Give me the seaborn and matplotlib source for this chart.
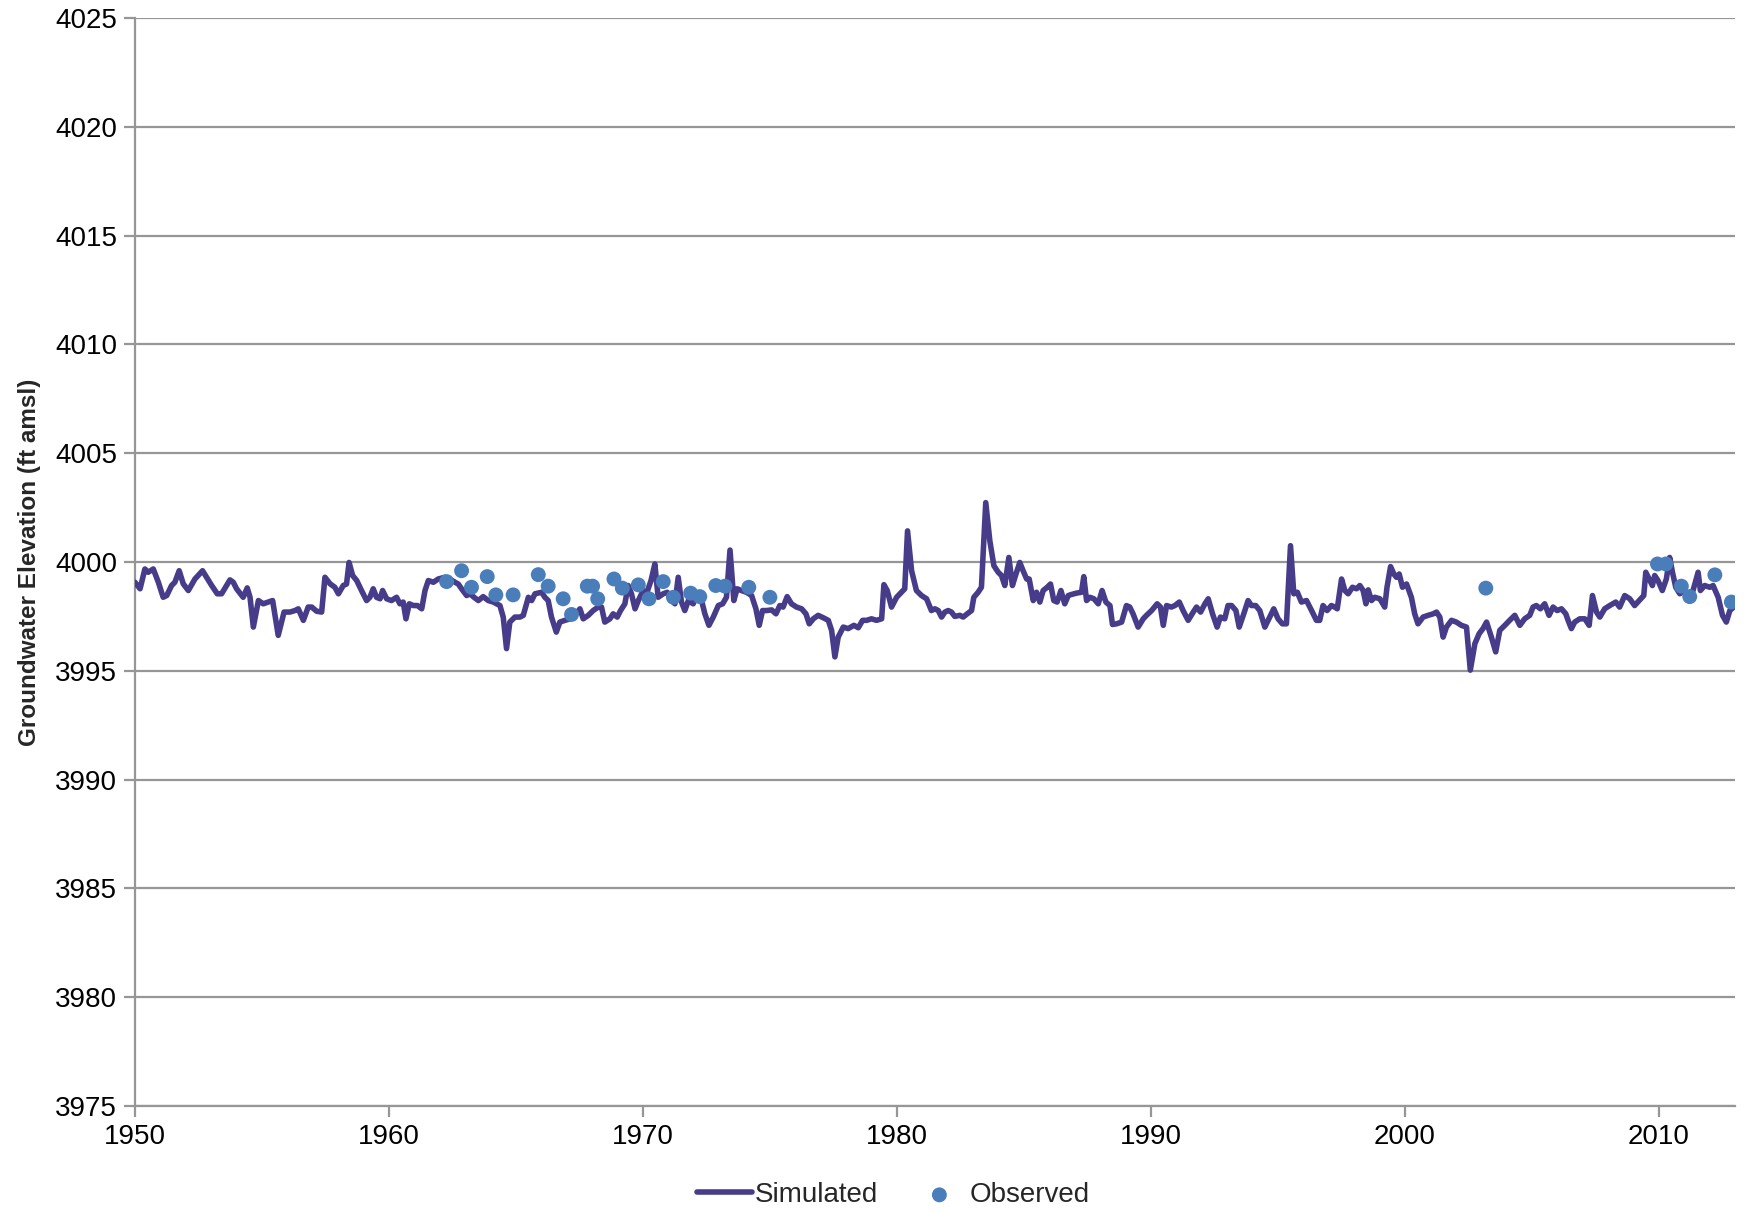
import matplotlib
matplotlib.use("Agg")
import matplotlib.pyplot as plt
import seaborn as sns

# simulated groundwater level
sim_year = [
    1950.00, 1950.20, 1950.39, 1950.52, 1950.72, 1950.92, 1951.11, 1951.25, 1951.44, 1951.57,
    1951.74, 1951.90, 1952.10, 1952.36, 1952.66, 1952.82, 1953.02, 1953.24, 1953.41, 1953.74,
    1953.87, 1954.00, 1954.26, 1954.42, 1954.53, 1954.66, 1954.86, 1955.05, 1955.25, 1955.42,
    1955.64, 1955.87, 1956.10, 1956.30, 1956.43, 1956.63, 1956.82, 1956.96, 1957.15, 1957.35,
    1957.48, 1957.68, 1957.87, 1958.01, 1958.20, 1958.33, 1958.43, 1958.57, 1958.73, 1958.92,
    1959.12, 1959.25, 1959.38, 1959.51, 1959.65, 1959.75, 1959.91, 1960.10, 1960.30, 1960.43,
    1960.56, 1960.67, 1960.80, 1960.96, 1961.12, 1961.29, 1961.42, 1961.55, 1961.75, 1961.94,
    1962.20, 1962.40, 1962.60, 1962.73, 1962.86, 1963.06, 1963.19, 1963.35, 1963.52, 1963.71,
    1963.91, 1964.11, 1964.37, 1964.50, 1964.63, 1964.76, 1964.96, 1965.16, 1965.29, 1965.49,
    1965.62, 1965.75, 1966.01, 1966.14, 1966.27, 1966.40, 1966.59, 1966.73, 1966.93, 1967.13,
    1967.32, 1967.52, 1967.65, 1967.85, 1968.04, 1968.24, 1968.37, 1968.50, 1968.70, 1968.83,
    1968.99, 1969.12, 1969.29, 1969.42, 1969.55, 1969.69, 1969.82, 1970.01, 1970.14, 1970.32,
    1970.47, 1970.60, 1970.80, 1970.96, 1971.13, 1971.26, 1971.39, 1971.52, 1971.65, 1971.79,
    1971.98, 1972.11, 1972.31, 1972.44, 1972.60, 1972.77, 1972.97, 1973.14, 1973.29, 1973.43,
    1973.58, 1973.71, 1973.88, 1974.08, 1974.28, 1974.45, 1974.58, 1974.71, 1974.87, 1975.07,
    1975.24, 1975.39, 1975.52, 1975.68, 1975.85, 1976.05, 1976.25, 1976.42, 1976.55, 1976.71,
    1976.90, 1977.10, 1977.30, 1977.43, 1977.56, 1977.69, 1977.89, 1978.08, 1978.31, 1978.48,
    1978.65, 1978.81, 1979.00, 1979.20, 1979.40, 1979.49, 1979.62, 1979.79, 1979.99, 1980.18,
    1980.31, 1980.42, 1980.58, 1980.77, 1980.97, 1981.17, 1981.36, 1981.50, 1981.63, 1981.76,
    1981.89, 1982.02, 1982.15, 1982.28, 1982.48, 1982.61, 1982.77, 1982.94, 1983.03, 1983.20,
    1983.33, 1983.50, 1983.66, 1983.82, 1983.99, 1984.12, 1984.25, 1984.41, 1984.55, 1984.69,
    1984.84, 1984.97, 1985.11, 1985.21, 1985.37, 1985.50, 1985.63, 1985.76, 1985.92, 1986.05,
    1986.18, 1986.31, 1986.46, 1986.61, 1986.75, 1986.88, 1987.07, 1987.27, 1987.36, 1987.47,
    1987.60, 1987.76, 1987.93, 1988.08, 1988.23, 1988.39, 1988.49, 1988.65, 1988.85, 1989.04,
    1989.17, 1989.30, 1989.50, 1989.70, 1989.83, 1990.03, 1990.25, 1990.38, 1990.49, 1990.62,
    1990.81, 1990.95, 1991.12, 1991.27, 1991.47, 1991.67, 1991.80, 1991.96, 1992.13, 1992.26,
    1992.43, 1992.61, 1992.74, 1992.91, 1993.04, 1993.18, 1993.35, 1993.48, 1993.66, 1993.83,
    1993.96, 1994.13, 1994.29, 1994.49, 1994.68, 1994.84, 1995.01, 1995.18, 1995.34, 1995.50,
    1995.63, 1995.77, 1995.93, 1996.13, 1996.33, 1996.52, 1996.65, 1996.78, 1996.94, 1997.11,
    1997.24, 1997.34, 1997.51, 1997.64, 1997.77, 1997.94, 1998.10, 1998.23, 1998.36, 1998.47,
    1998.56, 1998.69, 1998.82, 1999.02, 1999.21, 1999.30, 1999.44, 1999.57, 1999.67, 1999.78,
    1999.91, 2000.07, 2000.26, 2000.39, 2000.52, 2000.72, 2000.92, 2001.12, 2001.25, 2001.38,
    2001.51, 2001.64, 2001.84, 2002.03, 2002.23, 2002.43, 2002.58, 2002.76, 2002.93, 2003.08,
    2003.22, 2003.41, 2003.58, 2003.74, 2003.94, 2004.13, 2004.33, 2004.53, 2004.72, 2004.92,
    2005.05, 2005.18, 2005.34, 2005.51, 2005.68, 2005.84, 2006.00, 2006.17, 2006.34, 2006.43,
    2006.56, 2006.69, 2006.89, 2007.09, 2007.26, 2007.39, 2007.55, 2007.68, 2007.87, 2008.07,
    2008.31, 2008.46, 2008.66, 2008.86, 2009.05, 2009.23, 2009.41, 2009.49, 2009.62, 2009.75,
    2009.84, 2009.97, 2010.14, 2010.30, 2010.43, 2010.54, 2010.67, 2010.83, 2010.98, 2011.15,
    2011.35, 2011.55, 2011.64, 2011.81, 2012.01, 2012.14, 2012.34, 2012.51, 2012.66, 2012.80,
    2012.95,
]
sim_level = [
    3999.07, 3998.77, 3999.68, 3999.53, 3999.68, 3999.07, 3998.38, 3998.46, 3998.92, 3999.07,
    3999.60, 3999.00, 3998.69, 3999.22, 3999.60, 3999.30, 3998.92, 3998.54, 3998.54, 3999.18,
    3999.07, 3998.77, 3998.38, 3998.81, 3998.38, 3997.01, 3998.23, 3998.08, 3998.16, 3998.23,
    3996.63, 3997.70, 3997.70, 3997.77, 3997.85, 3997.32, 3997.93, 3997.93, 3997.74, 3997.70,
    3999.30, 3999.00, 3998.84, 3998.54, 3998.92, 3998.99, 3999.98, 3999.38, 3999.15, 3998.69,
    3998.23, 3998.38, 3998.77, 3998.38, 3998.31, 3998.69, 3998.31, 3998.23, 3998.38, 3998.08,
    3998.16, 3997.39, 3998.08, 3998.00, 3998.00, 3997.85, 3998.69, 3999.15, 3999.07, 3999.22,
    3999.30, 3999.22, 3999.07, 3998.99, 3998.77, 3998.46, 3998.54, 3998.38, 3998.23, 3998.41,
    3998.23, 3998.16, 3998.00, 3997.47, 3996.02, 3997.24, 3997.47, 3997.47, 3997.55, 3998.38,
    3998.23, 3998.54, 3998.61, 3998.38, 3998.23, 3997.47, 3996.78, 3997.24, 3997.32, 3997.39,
    3997.55, 3997.85, 3997.39, 3997.55, 3997.77, 3997.93, 3997.93, 3997.24, 3997.39, 3997.62,
    3997.47, 3997.77, 3998.08, 3998.92, 3998.54, 3997.85, 3998.23, 3998.69, 3998.54, 3999.15,
    3999.91, 3998.38, 3998.54, 3998.61, 3998.23, 3998.08, 3999.30, 3998.16, 3997.77, 3998.23,
    3998.08, 3998.46, 3998.23, 3997.62, 3997.09, 3997.47, 3998.00, 3998.08, 3998.38, 4000.55,
    3998.23, 3998.77, 3998.69, 3998.61, 3998.46, 3997.85, 3997.09, 3997.77, 3997.77, 3997.80,
    3997.62, 3998.00, 3997.93, 3998.41, 3998.08, 3997.93, 3997.85, 3997.62, 3997.16, 3997.39,
    3997.55, 3997.44, 3997.32, 3996.86, 3995.64, 3996.55, 3997.01, 3996.94, 3997.09, 3996.98,
    3997.32, 3997.32, 3997.39, 3997.32, 3997.39, 3998.96, 3998.69, 3997.93, 3998.38, 3998.61,
    3998.77, 4001.43, 3999.60, 3998.69, 3998.46, 3998.31, 3997.77, 3997.85, 3997.77, 3997.47,
    3997.70, 3997.77, 3997.70, 3997.50, 3997.55, 3997.47, 3997.62, 3997.77, 3998.38, 3998.61,
    3998.84, 4002.73, 4000.98, 3999.83, 3999.53, 3999.38, 3998.92, 4000.21, 3998.92, 3999.45,
    3999.98, 3999.60, 3999.22, 3999.22, 3998.23, 3998.61, 3998.16, 3998.69, 3998.84, 3998.99,
    3998.23, 3998.16, 3998.69, 3998.08, 3998.46, 3998.51, 3998.57, 3998.61, 3999.33, 3998.23,
    3998.38, 3998.31, 3998.08, 3998.69, 3998.16, 3998.00, 3997.13, 3997.16, 3997.24, 3998.00,
    3997.93, 3997.62, 3997.01, 3997.39, 3997.55, 3997.77, 3998.08, 3997.93, 3997.09, 3998.00,
    3997.93, 3998.00, 3998.16, 3997.77, 3997.32, 3997.70, 3997.93, 3997.70, 3998.08, 3998.31,
    3997.62, 3997.01, 3997.47, 3997.39, 3998.00, 3998.00, 3997.77, 3997.01, 3997.62, 3998.23,
    3998.00, 3998.00, 3997.77, 3997.01, 3997.47, 3997.85, 3997.39, 3997.16, 3997.16, 4000.75,
    3998.54, 3998.61, 3998.16, 3998.23, 3997.77, 3997.32, 3997.32, 3998.00, 3997.77, 3998.00,
    3997.93, 3997.85, 3999.22, 3998.69, 3998.54, 3998.84, 3998.77, 3998.92, 3998.69, 3998.08,
    3998.72, 3998.23, 3998.38, 3998.31, 3997.93, 3998.84, 3999.79, 3999.45, 3999.30, 3999.45,
    3998.84, 3998.99, 3998.38, 3997.62, 3997.16, 3997.47, 3997.55, 3997.62, 3997.70, 3997.47,
    3996.55, 3997.01, 3997.32, 3997.24, 3997.09, 3997.01, 3995.03, 3996.25, 3996.71, 3996.94,
    3997.24, 3996.55, 3995.87, 3996.86, 3997.09, 3997.32, 3997.55, 3997.09, 3997.39, 3997.55,
    3997.93, 3998.00, 3997.85, 3998.08, 3997.55, 3997.93, 3997.77, 3997.85, 3997.62, 3997.32,
    3996.94, 3997.24, 3997.39, 3997.39, 3997.09, 3998.46, 3997.70, 3997.47, 3997.85, 3998.00,
    3998.16, 3997.93, 3998.46, 3998.31, 3998.00, 3998.23, 3998.46, 3999.53, 3999.22, 3998.92,
    3999.38, 3999.15, 3998.69, 3999.22, 4000.21, 3999.53, 3998.84, 3998.54, 3998.69, 3998.54,
    3998.69, 3999.53, 3998.69, 3998.92, 3998.84, 3998.92, 3998.38, 3997.55, 3997.24, 3997.77,
    3997.93,
]

# observed measurements
obs_year = [
    1962.27, 1962.86, 1963.25, 1963.87, 1964.21, 1964.89, 1965.88, 1966.27, 1966.86, 1967.19,
    1967.81, 1968.02, 1968.22, 1968.86, 1969.19, 1969.82, 1970.24, 1970.80, 1971.20, 1971.88,
    1972.24, 1972.87, 1973.23, 1974.17, 1975.00, 2003.19, 2009.95, 2010.28, 2010.89, 2011.22,
    2012.21, 2012.86,
]
obs_level = [
    3999.10, 3999.60, 3998.84, 3999.33, 3998.49, 3998.49, 3999.42, 3998.89, 3998.31, 3997.59,
    3998.89, 3998.89, 3998.31, 3999.22, 3998.80, 3998.95, 3998.31, 3999.10, 3998.38, 3998.57,
    3998.41, 3998.92, 3998.89, 3998.84, 3998.38, 3998.80, 3999.91, 3999.91, 3998.89, 3998.41,
    3999.41, 3998.16,
]

x_ticks = [1950, 1960, 1970, 1980, 1990, 2000, 2010]
y_ticks = [3975, 3980, 3985, 3990, 3995, 4000, 4005, 4010, 4015, 4020, 4025]

sns.set_style("white")
plt.rcParams['font.family'] = ['Liberation Sans', 'DejaVu Sans']

grey = '#969696'
fig, ax = plt.subplots(figsize=(17.44, 12.11), dpi=100)
fig.subplots_adjust(left=0.0774, right=0.9948, top=0.9851, bottom=0.0867)

sns.lineplot(x=sim_year, y=sim_level, ax=ax, color='#463c8a', linewidth=4.0,
             label='Simulated', solid_joinstyle='round', zorder=3)
sns.scatterplot(x=obs_year, y=obs_level, ax=ax, color='#4a7ebb', s=115,
                edgecolor='none', label='Observed', zorder=4)

ax.set_xlim(1950, 2013)
ax.set_ylim(3975, 4025)
ax.set_xticks(x_ticks)
ax.set_yticks(y_ticks)
ax.yaxis.grid(True, color=grey, linewidth=1.6)
ax.xaxis.grid(False)
for side in ['top', 'right']:
    ax.spines[side].set_visible(False)
for side in ['left', 'bottom']:
    ax.spines[side].set_color(grey)
    ax.spines[side].set_linewidth(1.6)
ax.tick_params(axis='both', which='major', labelsize=20, length=8, width=1.6,
               color=grey, labelcolor='black', direction='out', left=True, bottom=True, pad=5)

ax.set_xlabel('')
ax.set_ylabel('Groundwater Elevation (ft amsl)', fontsize=17.5, fontweight='bold', labelpad=10)

ax.legend(loc='upper center', bbox_to_anchor=(0.474, -0.047), ncol=2, frameon=False,
          fontsize=20, handlelength=2.0, handletextpad=0.1, columnspacing=1.2)

plt.savefig('out.png', dpi=100)
plt.close()
